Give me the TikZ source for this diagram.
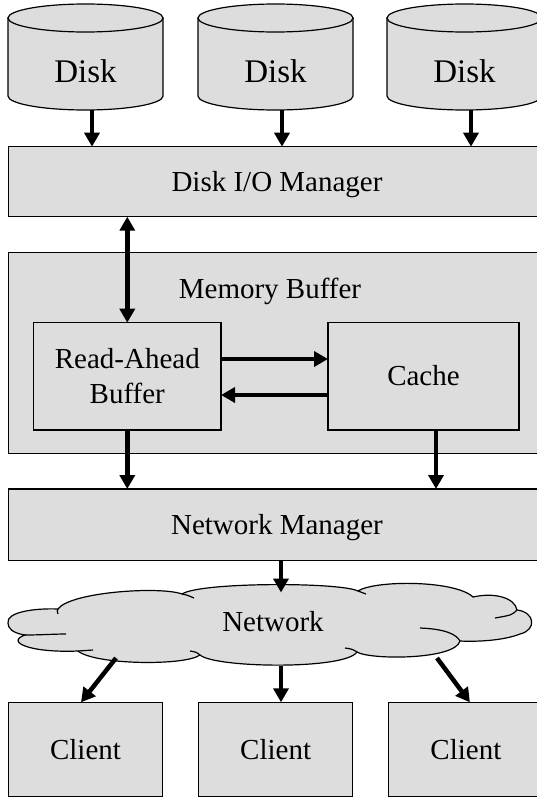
\documentclass[tikz,border=0pt]{standalone}
\usepackage{fontspec}
\setmainfont{Liberation Serif}
\usetikzlibrary{arrows.meta,calc}
\definecolor{boxgray}{RGB}{221,221,221}
\tikzset{
  box/.style={draw=black, line width=1.2pt, fill=boxgray, inner sep=0pt, outer sep=0pt,
    font=\fontsize{29}{35}\selectfont, align=center},
  lbl/.style={text height=19pt, text depth=0pt},
  txt/.style={inner sep=0pt, outer sep=0pt, font=\fontsize{29}{35}\selectfont, text height=19pt, text depth=0pt},
  disktxt/.style={inner sep=0pt, outer sep=0pt, font=\fontsize{33}{40}\selectfont, text height=21.6pt, text depth=0pt},
  diskbox/.style={minimum width=155pt, minimum height=106pt, inner sep=0pt, outer sep=0pt},
  arr/.style={line width=4.5pt, -{Triangle[length=14pt,width=15pt]}},
  darr/.style={line width=4.5pt, {Triangle[length=14pt,width=15pt]}-{Triangle[length=14pt,width=15pt]}},
  cyl/.style={draw=black, line width=1.2pt, fill=boxgray},
  cloudline/.style={draw=black, line width=1.2pt},
}
\newcommand\mydisk[2]{%
  \path[cyl] (#2-77.5,18) -- (#2-77.5,96) arc[start angle=180,end angle=0,x radius=77.5,y radius=14] -- (#2+77.5,18) -- cycle;
  \path[cyl] (#2,18) ellipse[x radius=77.5,y radius=14];
  \node[diskbox] (#1) at (#2,57) {};
  \node[disktxt] (#1t) at (#2,71.9) {Disk};
}
\begin{document}
\begin{tikzpicture}[x=1pt,y=-1pt]
\useasboundingbox (0,0) rectangle (537,798);
\fill[white] (0,0) rectangle (537,798);

% disks
\mydisk{d1}{85.5}
\mydisk{d2}{275.5}
\mydisk{d3}{464.5}

% Disk I/O manager
\node[box, lbl, minimum width=537.4pt, minimum height=70pt] (io) at (277,181.7) {Disk I/O Manager};

% memory buffer
\node[box, minimum width=537.4pt, minimum height=200.6pt] (mb) at (277,353) {};
\node[txt] (mbl) at (270,288.9) {Memory Buffer};
\node[box, minimum width=187.4pt, minimum height=107.3pt] (rab) at (127.3,376.35) {Read-Ahead\\Buffer};
\node[box, lbl, minimum width=191pt, minimum height=107.3pt] (cache) at (423.5,376.35) {Cache};

% network manager
\node[box, lbl, minimum width=537.4pt, minimum height=71.7pt] (nm) at (277,524.85) {Network Manager};

% cloud
\path[cloudline, fill=boxgray]
 (8,623) .. controls (6,612) and (35,608) .. (58,609)
 .. controls (70,592) and (160,586) .. (182,594)
 .. controls (200,582) and (340,582) .. (358,591)
 .. controls (375,580) and (455,580) .. (473,597)
 .. controls (495,592) and (515,598) .. (517,610)
 .. controls (535,612) and (537,630) .. (520,634)
 .. controls (505,640) and (480,642) .. (460,641)
 .. controls (455,660) and (370,660) .. (357,652)
 .. controls (345,670) and (215,668) .. (200,655)
 .. controls (185,666) and (95,665) .. (78,651)
 .. controls (30,653) and (5,642) .. (25,635)
 .. controls (12,633) and (8,628) .. (8,623) -- cycle;
\draw[cloudline] (25,635) .. controls (40,635) and (55,634) .. (66,634);
\draw[cloudline] (58,614) .. controls (57,611) .. (58,609);
\draw[cloudline] (182,594) .. controls (187,595) .. (194,598);
\draw[cloudline] (358,591) .. controls (362,592) .. (366,594);
\draw[cloudline] (517,610) .. controls (512,615) .. (495,618);
\draw[cloudline] (420,628) .. controls (445,629) and (456,634) .. (460,641);
\draw[cloudline] (357,652) .. controls (352,649) .. (345,648);
\draw[cloudline] (200,655) .. controls (196,652) .. (190,651);
\draw[cloudline] (78,651) .. controls (85,651) .. (93,650);
\node[txt] (net) at (273,621.9) {Network};

% clients
\node[box, lbl, minimum width=154.4pt, minimum height=94.4pt] (cl1) at (85.5,749.5) {Client};
\node[box, lbl, minimum width=154.4pt, minimum height=94.4pt] (cl2) at (275.6,749.5) {Client};
\node[box, lbl, minimum width=154.4pt, minimum height=94.4pt] (cl3) at (465.9,749.5) {Client};

% coordinates on the cloud
\coordinate (ct) at (281,592.5);
\coordinate (cb1) at (116,658);
\coordinate (cb2) at (281,666);
\coordinate (cb3) at (437,658);

% connectors
\draw[arr] ([xshift=6.5pt]d1.south) -- ([xshift=6.5pt]d1.south |- io.north);
\draw[arr] ([xshift=6.5pt]d2.south) -- ([xshift=6.5pt]d2.south |- io.north);
\draw[arr] ([xshift=6.5pt]d3.south) -- ([xshift=6.5pt]d3.south |- io.north);
\draw[darr] (rab.north |- io.south) -- (rab.north);
\draw[arr] ([yshift=17.35pt]rab.east) -- ([yshift=17.35pt]rab.east -| cache.west);
\draw[arr] ([yshift=-18.65pt]cache.west) -- ([yshift=-18.65pt]cache.west -| rab.east);
\draw[arr] (rab.south) -- (rab.south |- nm.north);
\draw[arr] ([xshift=12.5pt]cache.south) -- ([xshift=12.5pt]cache.south |- nm.north);
\draw[arr] (nm.south -| ct) -- (ct);
\draw[arr] (cb1) -- ([xshift=-4.5pt]cl1.north);
\draw[arr] (cb2) -- (cl2.north -| cb2);
\draw[arr] (cb3) -- ([xshift=4pt]cl3.north);
\end{tikzpicture}
\end{document}
